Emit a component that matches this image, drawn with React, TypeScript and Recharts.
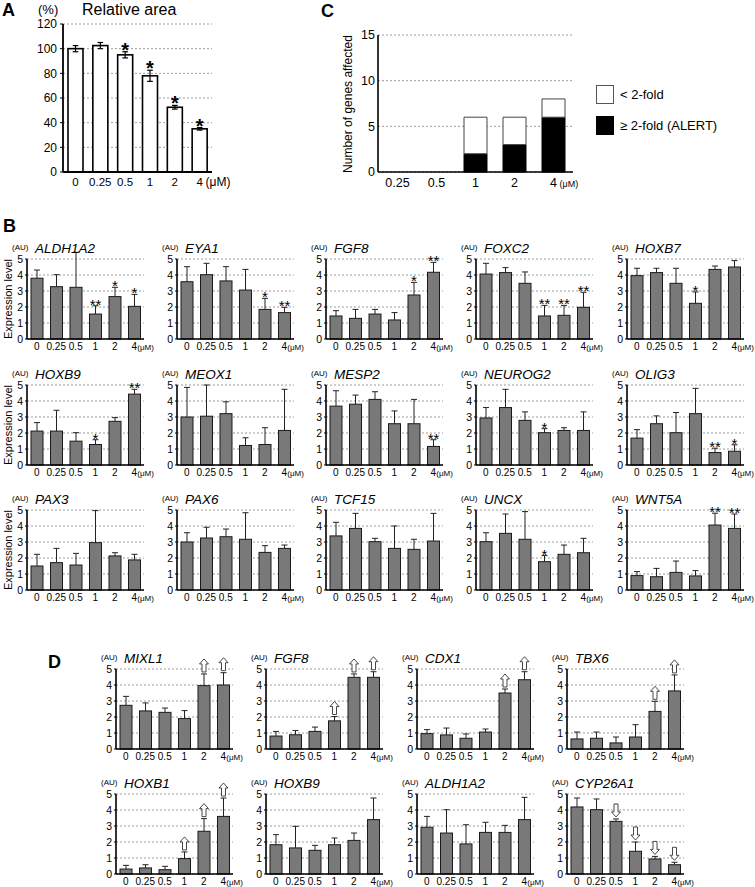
import React from 'react';
import { BarChart, Bar, XAxis, YAxis, CartesianGrid } from 'recharts';

const FONT = '"Liberation Sans", Arial, Helvetica, sans-serif';

// ---------- Panel A : relative area ----------
const areaDoses = ['0', '0.25', '0.5', '1', '2', '4'];
const areaMean = [100, 102.5, 95, 78, 52.5, 35];
const areaSd = [2.5, 2.5, 2.5, 4.5, 1.5, 1];
const areaSig = ['', '', '*', '*', '*', '*'];
const areaTicks = [0, 20, 40, 60, 80, 100, 120];

// ---------- Panel C : number of genes affected ----------
const countDoses = ['0.25', '0.5', '1', '2', '4'];
const alertCounts = [0, 0, 2, 3, 6];
const minorCounts = [0, 0, 4, 3, 2];
const countTicks = [0, 5, 10, 15];

// ---------- Panels B and D : expression level ----------
const exprDoses = ['0', '0.25', '0.5', '1', '2', '4'];
const exprTicks = [0, 1, 2, 3, 4, 5];
const noMarks = ['', '', '', '', '', ''];

// B row 1
const bAldh1a2 = [3.8, 3.27, 3.23, 1.56, 2.65, 2.04];
const bAldh1a2Sd = [0.51, 0.75, 2.19, 0.52, 0.58, 0.75];
const bAldh1a2Sig = ['', '', '', '**', '*', '*'];
const bEya1 = [3.58, 4.02, 3.63, 3.06, 1.85, 1.65];
const bEya1Sd = [0.94, 0.71, 0.89, 1.29, 0.69, 0.33];
const bEya1Sig = ['', '', '', '', '*', '**'];
const bFgf8 = [1.44, 1.29, 1.56, 1.19, 2.75, 4.17];
const bFgf8Sd = [0.33, 0.56, 0.29, 0.46, 0.79, 0.62];
const bFgf8Sig = ['', '', '', '', '*', '**'];
const bFoxc2 = [4.06, 4.15, 3.48, 1.44, 1.48, 1.98];
const bFoxc2Sd = [0.67, 0.31, 0.71, 0.66, 0.62, 0.94];
const bFoxc2Sig = ['', '', '', '**', '**', '**'];
const bHoxb7 = [3.96, 4.15, 3.48, 2.23, 4.35, 4.5];
const bHoxb7Sd = [0.46, 0.27, 0.94, 0.71, 0.21, 0.4];
const bHoxb7Sig = ['', '', '', '*', '', ''];
// B row 2
const bHoxb9 = [2.12, 2.12, 1.49, 1.28, 2.73, 4.43];
const bHoxb9Sd = [0.53, 1.3, 0.53, 0.3, 0.23, 0.3];
const bHoxb9Sig = ['', '', '', '*', '', '**'];
const bMeox1 = [3.0, 3.05, 3.21, 1.22, 1.28, 2.16];
const bMeox1Sd = [1.85, 1.95, 0.74, 0.48, 1.05, 2.57];
const bMesp2 = [3.68, 3.8, 4.1, 2.58, 2.58, 1.16];
const bMesp2Sd = [0.96, 0.57, 0.48, 0.8, 1.52, 0.42];
const bMesp2Sig = ['', '', '', '', '', '**'];
const bNeurog2 = [2.94, 3.59, 2.79, 2.02, 2.16, 2.16];
const bNeurog2Sd = [0.65, 1.14, 0.53, 0.25, 0.17, 1.16];
const bNeurog2Sig = ['', '', '', '*', '', ''];
const bOlig3 = [1.68, 2.58, 2.02, 3.21, 0.78, 0.86];
const bOlig3Sd = [0.53, 0.49, 1.26, 1.58, 0.27, 0.4];
const bOlig3Sig = ['', '', '', '', '**', '*'];
// B row 3
const bPax3 = [1.5, 1.71, 1.56, 2.96, 2.13, 1.88];
const bPax3Sd = [0.73, 0.89, 0.73, 2.0, 0.2, 0.35];
const bPax6 = [3.0, 3.25, 3.33, 3.17, 2.35, 2.6];
const bPax6Sd = [0.58, 0.67, 0.48, 1.66, 0.42, 0.21];
const bTcf15 = [3.38, 3.85, 3.02, 2.6, 2.54, 3.06];
const bTcf15Sd = [0.85, 0.94, 0.21, 1.4, 0.63, 1.73];
const bUncx = [3.02, 3.54, 3.17, 1.77, 2.23, 2.33];
const bUncxSd = [0.56, 1.21, 1.73, 0.38, 0.58, 0.9];
const bUncxSig = ['', '', '', '*', '', ''];
const bWnt5a = [0.9, 0.83, 1.1, 0.88, 4.06, 3.85];
const bWnt5aSd = [0.25, 0.52, 0.71, 0.33, 0.74, 0.9];
const bWnt5aSig = ['', '', '', '', '**', '**'];

// D row 1
const dMixl1 = [2.73, 2.38, 2.29, 1.9, 3.96, 4.0];
const dMixl1Sd = [0.56, 0.5, 0.27, 0.5, 0.73, 0.77];
const dMixl1Arrow = ['', '', '', '', 'up', 'up'];
const dFgf8 = [0.81, 0.89, 1.1, 1.76, 4.48, 4.48];
const dFgf8Sd = [0.29, 0.27, 0.27, 0.27, 0.21, 0.35];
const dFgf8Arrow = ['', '', '', 'up', 'up', 'up'];
const dCdx1 = [0.96, 0.88, 0.67, 1.06, 3.5, 4.33];
const dCdx1Sd = [0.25, 0.43, 0.27, 0.19, 0.25, 0.5];
const dCdx1Arrow = ['', '', '', '', 'up', 'up'];
const dTbx6 = [0.63, 0.67, 0.38, 0.75, 2.35, 3.63];
const dTbx6Sd = [0.43, 0.39, 0.37, 0.77, 0.63, 1.0];
const dTbx6Arrow = ['', '', '', '', 'up', 'up'];
// D row 2
const dHoxb1 = [0.31, 0.38, 0.27, 0.96, 2.67, 3.6];
const dHoxb1Sd = [0.23, 0.2, 0.21, 0.42, 0.79, 1.15];
const dHoxb1Arrow = ['', '', '', 'up', 'up', 'up'];
const dHoxb9 = [1.83, 1.63, 1.48, 1.83, 2.1, 3.4];
const dHoxb9Sd = [0.63, 1.35, 0.31, 0.42, 0.46, 1.35];
const dAldh1a2 = [2.92, 2.56, 1.88, 2.6, 2.6, 3.4];
const dAldh1a2Sd = [0.68, 1.46, 1.2, 0.63, 0.44, 1.39];
const dCyp26a1 = [4.19, 4.02, 3.29, 1.42, 0.94, 0.58];
const dCyp26a1Sd = [0.56, 0.67, 0.15, 0.58, 0.16, 0.15];
const dCyp26a1Arrow = ['', '', 'down', 'down', 'down', 'down'];

const panelB = [
  { gene: 'ALDH1A2', mean: bAldh1a2, sd: bAldh1a2Sd, mark: bAldh1a2Sig },
  { gene: 'EYA1', mean: bEya1, sd: bEya1Sd, mark: bEya1Sig },
  { gene: 'FGF8', mean: bFgf8, sd: bFgf8Sd, mark: bFgf8Sig },
  { gene: 'FOXC2', mean: bFoxc2, sd: bFoxc2Sd, mark: bFoxc2Sig },
  { gene: 'HOXB7', mean: bHoxb7, sd: bHoxb7Sd, mark: bHoxb7Sig },
  { gene: 'HOXB9', mean: bHoxb9, sd: bHoxb9Sd, mark: bHoxb9Sig },
  { gene: 'MEOX1', mean: bMeox1, sd: bMeox1Sd, mark: noMarks },
  { gene: 'MESP2', mean: bMesp2, sd: bMesp2Sd, mark: bMesp2Sig },
  { gene: 'NEUROG2', mean: bNeurog2, sd: bNeurog2Sd, mark: bNeurog2Sig },
  { gene: 'OLIG3', mean: bOlig3, sd: bOlig3Sd, mark: bOlig3Sig },
  { gene: 'PAX3', mean: bPax3, sd: bPax3Sd, mark: noMarks },
  { gene: 'PAX6', mean: bPax6, sd: bPax6Sd, mark: noMarks },
  { gene: 'TCF15', mean: bTcf15, sd: bTcf15Sd, mark: noMarks },
  { gene: 'UNCX', mean: bUncx, sd: bUncxSd, mark: bUncxSig },
  { gene: 'WNT5A', mean: bWnt5a, sd: bWnt5aSd, mark: bWnt5aSig },
];

const panelD = [
  { gene: 'MIXL1', mean: dMixl1, sd: dMixl1Sd, mark: dMixl1Arrow },
  { gene: 'FGF8', mean: dFgf8, sd: dFgf8Sd, mark: dFgf8Arrow },
  { gene: 'CDX1', mean: dCdx1, sd: dCdx1Sd, mark: dCdx1Arrow },
  { gene: 'TBX6', mean: dTbx6, sd: dTbx6Sd, mark: dTbx6Arrow },
  { gene: 'HOXB1', mean: dHoxb1, sd: dHoxb1Sd, mark: dHoxb1Arrow },
  { gene: 'HOXB9', mean: dHoxb9, sd: dHoxb9Sd, mark: noMarks },
  { gene: 'ALDH1A2', mean: dAldh1a2, sd: dAldh1a2Sd, mark: noMarks },
  { gene: 'CYP26A1', mean: dCyp26a1, sd: dCyp26a1Sd, mark: dCyp26a1Arrow },
];

// ---------- layout ----------
const B_COLS = [27, 177, 326, 476, 627];
const B_ROWS = [259, 385, 510];
const D_COLS = [116, 266, 417, 567];
const D_ROWS = [669, 794];

const YW = 26;
const MT = 24;
const MR = 14;
const XH = 16;
const PW = 117;
const PH = 80;

function DoseTick(props: any) {
  const { x, y, payload, fs, ufs, gap } = props;
  const by = y + fs * 0.72;
  return (
    <g>
      <text x={x} y={by} textAnchor="middle" fontSize={fs} fontFamily={FONT} fill="#000">
        {payload.value}
      </text>
      {payload.value === '4' ? (
        <text x={x + gap} y={by} textAnchor="start" fontSize={ufs} fontFamily={FONT} fill="#000">
          (μM)
        </text>
      ) : null}
    </g>
  );
}

function ExprBar(props: any) {
  const { x, y, width, height, payload } = props;
  if (!payload || !height || height <= 0) return null;
  const base = y + height;
  const k = height / payload.mean;
  const ey = base - (payload.mean + payload.sd) * k;
  const cx = x + width / 2;
  const m = payload.mark;
  const w = 4.5;
  const sh = 2;
  const hh = 5;
  const H = 13;
  let extra: any = null;
  if (m === 'up') {
    const t = ey - 2 - H;
    extra = (
      <path
        d={`M${cx},${t} L${cx + w},${t + hh} L${cx + sh},${t + hh} L${cx + sh},${t + H} L${cx - sh},${t + H} L${cx - sh},${t + hh} L${cx - w},${t + hh} Z`}
        fill="#fff"
        stroke="#333"
        strokeWidth={0.9}
      />
    );
  } else if (m === 'down') {
    const b = ey - 2;
    extra = (
      <path
        d={`M${cx},${b} L${cx + w},${b - hh} L${cx + sh},${b - hh} L${cx + sh},${b - H} L${cx - sh},${b - H} L${cx - sh},${b - hh} L${cx - w},${b - hh} Z`}
        fill="#fff"
        stroke="#333"
        strokeWidth={0.9}
      />
    );
  } else if (m) {
    extra = (
      <text x={cx} y={ey + 4} textAnchor="middle" fontSize={15} fontFamily={FONT} fill="#000">
        {m}
      </text>
    );
  }
  return (
    <g>
      <line x1={cx} x2={cx} y1={y} y2={ey} stroke="#222" strokeWidth={1} />
      <line x1={cx - 3} x2={cx + 3} y1={ey} y2={ey} stroke="#222" strokeWidth={1} />
      <rect x={x} y={y} width={width} height={height} fill="#797979" stroke="#1a1a1a" strokeWidth={1} />
      {extra}
    </g>
  );
}

function AreaBar(props: any) {
  const { x, y, width, height, payload } = props;
  if (!payload || !height || height <= 0) return null;
  const base = y + height;
  const k = height / payload.mean;
  const hi = base - (payload.mean + payload.sd) * k;
  const lo = base - (payload.mean - payload.sd) * k;
  const cx = x + width / 2;
  return (
    <g>
      <rect x={x} y={y} width={width} height={height} fill="#fff" stroke="#000" strokeWidth={1.6} />
      <line x1={cx} x2={cx} y1={lo} y2={hi} stroke="#000" strokeWidth={1.2} />
      <line x1={cx - 2.8} x2={cx + 2.8} y1={hi} y2={hi} stroke="#000" strokeWidth={1.2} />
      <line x1={cx - 2.8} x2={cx + 2.8} y1={lo} y2={lo} stroke="#000" strokeWidth={1.2} />
      {payload.sig ? (
        <text x={cx} y={hi + 5} textAnchor="middle" fontSize={20} fontWeight={700} fontFamily={FONT} fill="#000">
          {payload.sig}
        </text>
      ) : null}
    </g>
  );
}

function ExprChart({ ax, top, mean, sd, mark }: any) {
  const data = exprDoses.map((d, i) => ({ dose: d, mean: mean[i], sd: sd[i], mark: mark[i] }));
  return (
    <div style={{ position: 'absolute', left: ax - YW, top: top - MT }}>
      <BarChart
        width={YW + PW + MR}
        height={MT + PH + XH}
        data={data}
        margin={{ top: MT, right: MR, bottom: 0, left: 0 }}
      >
        <CartesianGrid vertical={false} stroke="#9c9c9c" strokeDasharray="2 2" />
        <XAxis
          dataKey="dose"
          interval={0}
          height={XH}
          tickSize={0}
          tickMargin={4}
          tickLine={false}
          axisLine={{ stroke: '#000', strokeWidth: 1.6 }}
          tick={(p: any) => <DoseTick {...p} fs={10} ufs={8} gap={3} />}
        />
        <YAxis
          type="number"
          domain={[0, 5]}
          ticks={exprTicks}
          interval={0}
          width={YW}
          tickSize={2}
          tickMargin={2}
          tickLine={{ stroke: '#000' }}
          axisLine={{ stroke: '#000', strokeWidth: 1.6 }}
          tick={{ fontSize: 10.5, fill: '#000', fontFamily: FONT }}
        />
        <Bar dataKey="mean" barSize={12} isAnimationActive={false} shape={(p: any) => <ExprBar {...p} />} />
      </BarChart>
    </div>
  );
}

function PanelA() {
  const data = areaDoses.map((d, i) => ({ dose: d, mean: areaMean[i], sd: areaSd[i], sig: areaSig[i] }));
  const yw = 40;
  const mt = 10;
  return (
    <div style={{ position: 'absolute', left: 63 - yw, top: 24 - mt }}>
      <BarChart width={yw + 149 + 35} height={mt + 148 + 22} data={data} margin={{ top: mt, right: 35, bottom: 0, left: 0 }}>
        <CartesianGrid vertical={false} stroke="#9c9c9c" strokeDasharray="2 2" />
        <XAxis
          dataKey="dose"
          interval={0}
          height={22}
          tickSize={0}
          tickMargin={6}
          tickLine={false}
          axisLine={{ stroke: '#000', strokeWidth: 1.8 }}
          tick={(p: any) => <DoseTick {...p} fs={11.5} ufs={12} gap={6} />}
        />
        <YAxis
          type="number"
          domain={[0, 120]}
          ticks={areaTicks}
          interval={0}
          width={yw}
          tickSize={3}
          tickMargin={3}
          tickLine={{ stroke: '#000' }}
          axisLine={{ stroke: '#000', strokeWidth: 1.8 }}
          tick={{ fontSize: 12, fill: '#000', fontFamily: FONT }}
        />
        <Bar dataKey="mean" barSize={15} isAnimationActive={false} shape={(p: any) => <AreaBar {...p} />} />
      </BarChart>
    </div>
  );
}

function PanelC() {
  const data = countDoses.map((d, i) => ({ dose: d, alert: alertCounts[i], minor: minorCounts[i] }));
  const yw = 30;
  const mt = 10;
  return (
    <div style={{ position: 'absolute', left: 378 - yw, top: 35 - mt }}>
      <BarChart width={yw + 195 + 30} height={mt + 137 + 22} data={data} margin={{ top: mt, right: 30, bottom: 0, left: 0 }}>
        <CartesianGrid vertical={false} stroke="#9c9c9c" strokeDasharray="2 2" />
        <XAxis
          dataKey="dose"
          interval={0}
          height={22}
          tickSize={0}
          tickMargin={6}
          tickLine={false}
          axisLine={{ stroke: '#000', strokeWidth: 1.6 }}
          tick={(p: any) => <DoseTick {...p} fs={12.5} ufs={9} gap={6} />}
        />
        <YAxis
          type="number"
          domain={[0, 15]}
          ticks={countTicks}
          interval={0}
          width={yw}
          tickSize={0}
          tickMargin={3}
          tickLine={false}
          axisLine={{ stroke: '#000', strokeWidth: 1.6 }}
          tick={{ fontSize: 12.5, fill: '#000', fontFamily: FONT }}
        />
        <Bar dataKey="alert" stackId="g" barSize={23} fill="#000" stroke="#000" strokeWidth={1} isAnimationActive={false} />
        <Bar dataKey="minor" stackId="g" barSize={23} fill="#fff" stroke="#444" strokeWidth={1} isAnimationActive={false} />
      </BarChart>
    </div>
  );
}

function Titles() {
  const items: any[] = [];
  panelB.forEach((g, i) => {
    const ax = B_COLS[i % 5];
    const top = B_ROWS[Math.floor(i / 5)];
    items.push({ ax, top, gene: g.gene, key: 'b' + i, ylab: i % 5 === 0 });
  });
  panelD.forEach((g, i) => {
    const ax = D_COLS[i % 4];
    const top = D_ROWS[Math.floor(i / 4)];
    items.push({ ax, top, gene: g.gene, key: 'd' + i, ylab: false });
  });
  return (
    <svg
      width={755}
      height={887}
      style={{ position: 'absolute', left: 0, top: 0, pointerEvents: 'none' }}
      fontFamily={FONT}
    >
      <text x={2} y={16} fontSize={18} fontWeight={700}>A</text>
      <text x={321} y={17} fontSize={18} fontWeight={700}>C</text>
      <text x={3} y={232} fontSize={18} fontWeight={700}>B</text>
      <text x={48} y={668} fontSize={18} fontWeight={700}>D</text>

      <text x={38} y={14} fontSize={13}>(%)</text>
      <text x={82} y={15} fontSize={16}>Relative area</text>

      <text x={352} y={104} fontSize={12} textAnchor="middle" transform="rotate(-90 352 104)">
        Number of genes affected
      </text>
      <rect x={596.5} y={85.5} width={17} height={18} fill="#fff" stroke="#555" strokeWidth={1} />
      <text x={620} y={98.5} fontSize={13}>&lt; 2-fold</text>
      <rect x={596.5} y={116.5} width={17} height={18} fill="#000" stroke="#000" strokeWidth={1} />
      <text x={620} y={130} fontSize={13}>≥ 2-fold (ALERT)</text>

      {items.map((it) => (
        <g key={it.key}>
          <text x={it.ax - 15} y={it.top - 9} fontSize={8}>(AU)</text>
          <text x={it.ax + 8} y={it.top - 6} fontSize={13.5} fontStyle="italic">{it.gene}</text>
          {it.ylab ? (
            <text
              x={8}
              y={it.top + 40}
              fontSize={11}
              textAnchor="middle"
              dominantBaseline="central"
              transform={`rotate(-90 8 ${it.top + 40})`}
            >
              Expression level
            </text>
          ) : null}
        </g>
      ))}
    </svg>
  );
}

export default function App() {
  return (
    <div
      style={{
        position: 'absolute',
        left: 0,
        top: 0,
        width: 755,
        height: 887,
        overflow: 'hidden',
        background: '#fff',
        fontFamily: FONT,
      }}
    >
      <PanelA />
      <PanelC />
      {panelB.map((g, i) => (
        <ExprChart key={'B' + i} ax={B_COLS[i % 5]} top={B_ROWS[Math.floor(i / 5)]} mean={g.mean} sd={g.sd} mark={g.mark} />
      ))}
      {panelD.map((g, i) => (
        <ExprChart key={'D' + i} ax={D_COLS[i % 4]} top={D_ROWS[Math.floor(i / 4)]} mean={g.mean} sd={g.sd} mark={g.mark} />
      ))}
      <Titles />
    </div>
  );
}
